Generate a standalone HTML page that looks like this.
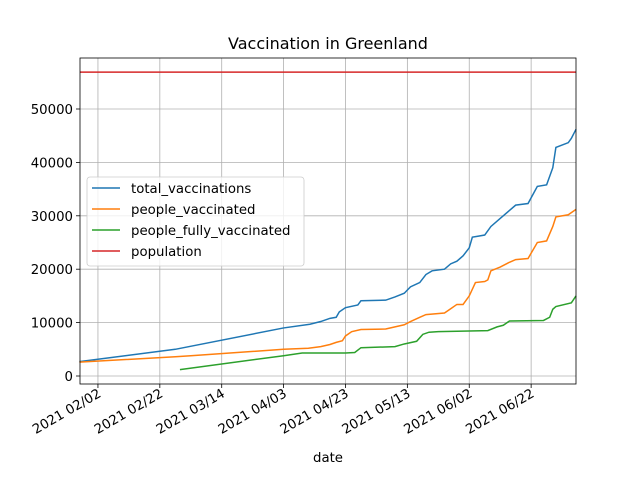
<!DOCTYPE html>
<html><head><meta charset="utf-8"><style>
body{margin:0;background:#fff;}
svg{font-family:"DejaVu Sans","Liberation Sans",sans-serif;}
</style></head><body>
<svg id="c" width="640" height="480" xmlns="http://www.w3.org/2000/svg">
<rect width="640" height="480" fill="#fff"/>
<text x="328" y="49" text-anchor="middle" font-size="16">Vaccination in Greenland</text>
<g id="grid"></g><g id="series"></g><g id="axes"></g>
<text x="328" y="462" text-anchor="middle" font-size="13.3">date</text>
<g id="legend"></g>
</svg>
<script>
const totalDays=[-6,25,60,68.5,72,75,77,78,80,84,85,93,96,99,101,104,106,108,112,114,116,118,120,121,123,125,127,130,133,135,139,142,145,147,148,152,153,154.5];
const totalVals=[2700,5000,9000,9700,10200,10800,11000,12000,12800,13300,14100,14200,14800,15500,16700,17500,19000,19700,20000,21000,21500,22500,24000,26000,26200,26400,28000,29500,31000,32000,32300,35500,35800,39000,42800,43700,44500,46200];
const peopleDays=[-6,25,30,60,68,72,75,77,79,80,82,85,93,96,99,101,104,106,112,114,116,118,120,122,125,126,127,130,133,135,139,142,145,147,148,152,154.5];
const peopleVals=[2600,3600,3800,5000,5200,5500,5900,6300,6600,7500,8300,8700,8800,9200,9600,10200,11000,11500,11800,12600,13400,13400,15000,17500,17700,18000,19700,20400,21300,21800,22000,25000,25300,28000,29800,30200,31200];
const fullyDays=[26.5,60,66,80,83,85,96,99,103,105,107,110,126,129,131,133,144,146,147,148,153,154.5];
const fullyVals=[1200,3800,4300,4300,4400,5300,5500,6000,6500,7800,8200,8300,8500,9200,9500,10300,10400,11000,12500,13000,13700,15000];
const population=56900;
const xTickDays=[0,20,40,60,80,100,120,140];
const xTickLabels=["2021 02/02","2021 02/22","2021 03/14","2021 04/03","2021 04/23","2021 05/13","2021 06/02","2021 06/22"];
const yTicks=[0,10000,20000,30000,40000,50000];
const L=80,R=576,T=58,B=384;
const dMin=-5.8,dMax=154.5;
const X=d=>L+(d-dMin)/(dMax-dMin)*(R-L);
const Y=v=>376-v*0.00534;
const NS="http://www.w3.org/2000/svg";
function mk(tag,attrs,parent){const e=document.createElementNS(NS,tag);for(const k in attrs)e.setAttribute(k,attrs[k]);parent.appendChild(e);return e;}
const grid=document.getElementById('grid'),axes=document.getElementById('axes'),ser=document.getElementById('series');
xTickDays.forEach((d,i)=>{
 const x=X(d);
 const g=mk('line',{x1:x,x2:x,y1:T,y2:B,stroke:'#b0b0b0','stroke-width':0.8},grid);
 
 
 mk('line',{x1:x,x2:x,y1:B,y2:B+4,stroke:'#000','stroke-width':0.8},axes);
 const t=mk('text',{x:x+4,y:B+12,'text-anchor':'end','font-size':13.3,transform:`rotate(-30 ${x+4} ${B+12})`},axes);
 t.textContent=xTickLabels[i];
 
 
});
yTicks.forEach(v=>{
 const y=Y(v);
 const g=mk('line',{x1:L,x2:R,y1:y,y2:y,stroke:'#b0b0b0','stroke-width':0.8},grid);
 
 
 mk('line',{x1:L-4,x2:L,y1:y,y2:y,stroke:'#000','stroke-width':0.8},axes);
 const t=mk('text',{x:L-7,y:y+5,'text-anchor':'end','font-size':13.3},axes);
 t.textContent=String(v);
 
 
});
const fr=mk('rect',{x:L,y:T,width:R-L,height:B-T,fill:'none',stroke:'#000','stroke-width':0.8},axes);


function line(days,vals,color,name){
 const p=mk('polyline',{points:days.map((d,i)=>X(d)+','+Y(vals[i])).join(' '),fill:'none',stroke:color,'stroke-width':1.5},ser);
 
 
}
line(totalDays,totalVals,'#1f77b4','total-vaccinations-line');
line(peopleDays,peopleVals,'#ff7f0e','people-vaccinated-line');
line(fullyDays,fullyVals,'#2ca02c','people-fully-vaccinated-line');
const pl=mk('line',{x1:L,x2:R,y1:Y(population),y2:Y(population),stroke:'#d62728','stroke-width':1.5},ser);


const lg=document.getElementById('legend');
mk('rect',{x:87,y:177,width:217,height:89,rx:3,fill:'#fff','fill-opacity':0.8,stroke:'#ccc','stroke-width':0.8},lg);
[['total_vaccinations','#1f77b4'],['people_vaccinated','#ff7f0e'],['people_fully_vaccinated','#2ca02c'],['population','#d62728']].forEach((e,i)=>{
 const y=188+i*21;
 const g=mk('g',{},lg);
 
 
 mk('line',{x1:92,x2:120,y1:y,y2:y,stroke:e[1],'stroke-width':1.5},g);
 const t=mk('text',{x:131,y:y+5,'font-size':13.3},g);
 t.textContent=e[0];
});
</script>
</body></html>
